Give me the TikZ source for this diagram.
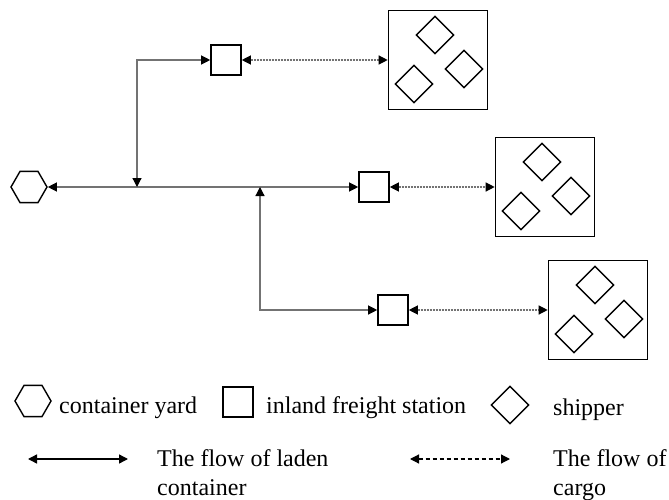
\documentclass[tikz,border=0pt]{standalone}
\usepackage{fontspec}
\setmainfont{Liberation Serif}
\usetikzlibrary{arrows.meta, shapes.geometric}

\begin{document}
\begin{tikzpicture}[x=1pt, y=-1pt,
      yard/.style={draw, regular polygon, regular polygon sides=6,
                   minimum size=36pt, inner sep=0pt, line width=1.4pt},
      ifs/.style={draw, minimum size=30pt, inner sep=0pt, line width=1.6pt},
      shbox/.style={draw, minimum size=99pt, inner sep=0pt, line width=1.6pt},
      shp/.style={draw, diamond, minimum width=38pt, minimum height=38pt,
                  inner sep=0pt, line width=1.4pt},
      flow/.style={draw=black!55, line width=1.2pt},
      cargo/.style={draw=black!55, line width=1.2pt, dash pattern=on 2pt off 1pt},
      lbl/.style={font=\fontsize{24}{29}\selectfont, inner sep=0pt, align=left},
      >={Triangle[length=9pt, width=9pt, color=black]}]
    \useasboundingbox (0,0) rectangle (669,500);
    % network
    \node[yard] (cy) at (29,187) {};
    \node[ifs] (ifs1) at (226,60) {};
    \node[ifs] (ifs2) at (374,187) {};
    \node[ifs] (ifs3) at (393,310) {};
    \node[shbox] (sh1) at (438,60) {};
    \node[shbox] (sh2) at (545,187) {};
    \node[shbox] (sh3) at (598,310) {};
    \foreach \s in {sh1, sh2, sh3} {
      \node[shp] (\s-a) at ([shift={(-3,-25)}]\s) {};
      \node[shp] (\s-b) at ([shift={(26,9)}]\s) {};
      \node[shp] (\s-c) at ([shift={(-24,24)}]\s) {};
    }
    \coordinate (j1) at (137,187);
    \coordinate (j2) at (260,187);
    \draw[flow, <->] (cy) -- (ifs2);
    \draw[flow, <->] (j1) |- (ifs1);
    \draw[flow, <->] (j2) |- (ifs3);
    \draw[cargo, <->] (ifs1) -- (sh1);
    \draw[cargo, <->] (ifs2) -- (sh2);
    \draw[cargo, <->] (ifs3) -- (sh3);
    % legend
    \node[yard] (lyard) at (33,401) {};
    \node[lbl, anchor=base west] (tyard) at (59,413) {container yard};
    \node[ifs] (lifs) at (238,402) {};
    \node[lbl, anchor=base west] (tifs) at (266,413) {inland freight station};
    \node[shp] (lshp) at (510,405) {};
    \node[lbl, anchor=base west] (tshp) at (553,415) {shipper};
    \coordinate (lf1) at (28,459);
    \coordinate (lf2) at (128,459);
    \draw[line width=1.4pt, <->] (lf1) -- (lf2);
    \node[lbl, anchor=north west] (tflow) at (157,449.5) {The flow of laden\\container};
    \coordinate (lc1) at (410,459);
    \coordinate (lc2) at (510,459);
    \draw[line width=1.2pt, dash pattern=on 4.5pt off 2.5pt, <->] (lc1) -- (lc2);
    \node[lbl, anchor=north west] (tcargo) at (553,449.5) {The flow of\\cargo};
  \end{tikzpicture}
\end{document}
